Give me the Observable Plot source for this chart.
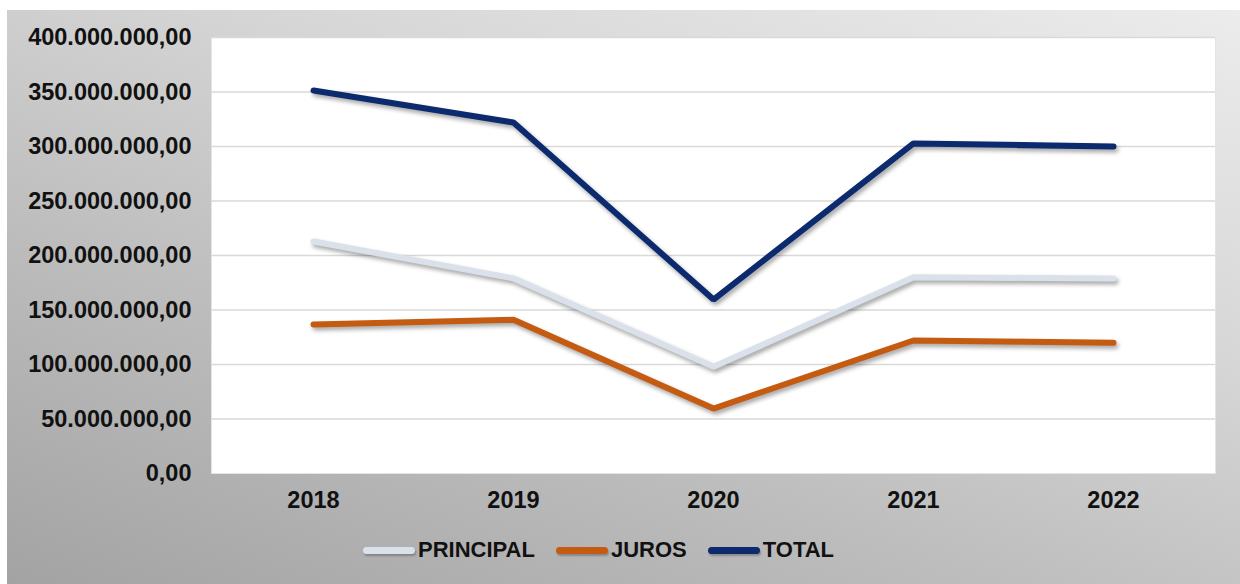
<!DOCTYPE html>
<html>
<head>
<meta charset="utf-8">
<script src="https://cdn.jsdelivr.net/npm/d3@7"></script>
<script src="https://cdn.jsdelivr.net/npm/@observablehq/plot@0.6"></script>
<style>
  html, body { margin: 0; padding: 0; background: #ffffff; }
  #wrap { position: relative; width: 1240px; height: 584px; overflow: hidden; font-family: "Liberation Sans", Arial, sans-serif; }
  #bg { position: absolute; left: 7px; top: 10px; right: 0; bottom: 0;
        background: linear-gradient(20deg, #a3a3a3 0%, #bdbdbd 35%, #d6d6d6 65%, #ececec 100%); }
  #chart { position: absolute; left: 0; top: 0; }
  #legend { position: absolute; left: 363px; top: 537px; display: flex; align-items: center;
            font-weight: bold; font-size: 22px; color: #111; }
  .item { display: flex; align-items: center; margin-right: 21px; }
  .sw { width: 52px; height: 7px; border-radius: 4px; margin-right: 3px; box-shadow: 1px 2px 2px rgba(0,0,0,0.25); }
</style>
</head>
<body>
<div id="wrap"><div id="bg"></div><div id="chart"></div><div id="legend"></div></div>
<script>
const years = ["2018", "2019", "2020", "2021", "2022"];
const principal = [212800000, 179000000, 98000000, 180000000, 179000000];
const juros = [136700000, 141000000, 59600000, 122000000, 120000000];
const total = [351400000, 322000000, 159600000, 302800000, 300000000];
const seriesNames = ["PRINCIPAL", "JUROS", "TOTAL"];
const seriesColors = ["#dbe1ea", "#c55a11", "#0c2a6e"];
const yTicks = [0, 50e6, 100e6, 150e6, 200e6, 250e6, 300e6, 350e6, 400e6];

const seriesValues = [principal, juros, total];
const rows = [];
seriesNames.forEach((s, i) => years.forEach((y, j) => rows.push({series: s, year: y, value: seriesValues[i][j]})));

const loc = d3.formatLocale({decimal: ",", thousands: ".", grouping: [3], currency: ["R$", ""]});
const fmt = loc.format(",.2f");

const chart = Plot.plot({
  width: 1240,
  height: 584,
  marginLeft: 211,
  marginRight: 25,
  marginTop: 37,
  marginBottom: 111,
  style: {background: "transparent", fontFamily: "'Liberation Sans', Arial, sans-serif"},
  x: {type: "point", domain: years, padding: 0.5, label: null},
  y: {domain: [0, 400e6], ticks: yTicks, label: null},
  color: {domain: seriesNames, range: seriesColors},
  marks: [
    Plot.frame({fill: "white", stroke: "#e4e4e4", strokeWidth: 1}),
    Plot.gridY(yTicks.slice(1), {stroke: "#d9d9d9", strokeOpacity: 1, strokeWidth: 1.5}),
    Plot.axisY({ticks: yTicks, tickSize: 0, tickPadding: 20, tickFormat: fmt, fontSize: 23.5, fontWeight: "bold", fill: "#111", label: null}),
    Plot.axisX({tickSize: 0, tickPadding: 18, fontSize: 23.5, fontWeight: "bold", fill: "#111", label: null}),
    Plot.line(rows, {x: "year", y: "value", z: "series", stroke: "series", strokeWidth: 6, strokeLinecap: "round", strokeLinejoin: "miter", className: "serie"})
  ]
});
document.getElementById("chart").appendChild(chart);
chart.querySelectorAll(".serie").forEach(g => g.style.filter = "drop-shadow(2px 3px 2px rgba(0,0,0,0.35))");

const leg = document.getElementById("legend");
seriesNames.forEach((s, i) => {
  const it = document.createElement("div");
  it.className = "item";
  const sw = document.createElement("div");
  sw.className = "sw";
  sw.style.background = seriesColors[i];
  const t = document.createElement("span");
  t.textContent = s;
  it.appendChild(sw); it.appendChild(t);
  leg.appendChild(it);
});
</script>
</body>
</html>
